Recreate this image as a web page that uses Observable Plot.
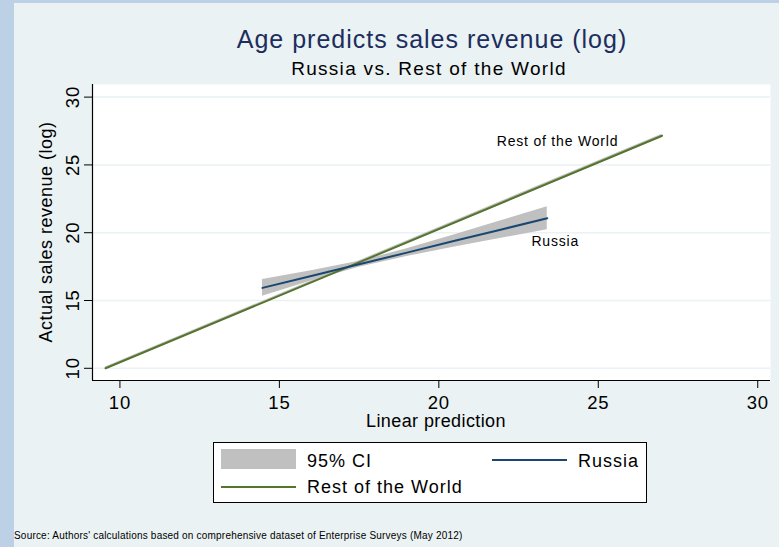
<!DOCTYPE html>
<html><head><meta charset="utf-8">
<script src="https://cdn.jsdelivr.net/npm/d3@7"></script>
<script src="https://cdn.jsdelivr.net/npm/@observablehq/plot@0.6"></script>
<style>
html,body{margin:0;padding:0;}
body{width:779px;height:547px;background:#bcd0e6;overflow:hidden;position:relative;font-family:"Liberation Sans",Arial,sans-serif;}
#panel{position:absolute;left:14px;top:3px;width:765px;height:544px;background:#eaf2f3;}
#chart{position:absolute;left:0;top:0;}
#chart svg text{letter-spacing:0.8px;}
.t{position:absolute;white-space:nowrap;line-height:1;}
#title{left:432px;top:27px;transform:translateX(-50%);font-size:25px;letter-spacing:1px;color:#1c2d5e;}
#sub{left:429px;top:59px;transform:translateX(-50%);font-size:19px;letter-spacing:1.3px;color:#000;}
#xl{left:436px;top:412px;transform:translateX(-50%);font-size:18px;letter-spacing:0.4px;color:#000;}
#yl{left:46px;top:232px;transform:translate(-50%,-50%) rotate(-90deg);font-size:18px;letter-spacing:0.5px;color:#000;}
#legend{position:absolute;left:213px;top:442px;width:432px;height:59px;border:1px solid #000;background:#fff;}
.sw{position:absolute;}
.lt{position:absolute;font-size:18px;letter-spacing:1px;line-height:1;}
#src{left:14px;top:531px;font-size:10px;letter-spacing:0.2px;color:#000;}
</style>
</head><body>
<div id="panel"></div>
<div id="chart"></div>
<div class="t" id="title">Age predicts sales revenue (log)</div>
<div class="t" id="sub">Russia vs. Rest of the World</div>
<div class="t" id="xl">Linear prediction</div>
<div class="t" id="yl">Actual sales revenue (log)</div>
<div id="legend">
  <div class="sw" style="left:7px;top:6px;width:75px;height:20px;background:#c0c0c0"></div>
  <div class="lt" style="left:93px;top:9px">95% CI</div>
  <div class="sw" style="left:278px;top:16px;width:75px;height:2px;background:#1a476f"></div>
  <div class="lt" style="left:364px;top:9px">Russia</div>
  <div class="sw" style="left:7px;top:43px;width:75px;height:2px;background:#55752f"></div>
  <div class="lt" style="left:93px;top:35px">Rest of the World</div>
</div>
<div class="t" id="src">Source: Authors' calculations based on comprehensive dataset of Enterprise Surveys (May 2012)</div>
<script>
// Tick values
const xTicks = [10, 15, 20, 25, 30];
const yTicks = [10, 15, 20, 25, 30];

// Rest of the World fit (linear prediction vs actual) with 95% CI
const rowX  = [9.55, 27.0];
const rowY  = [10.0, 27.15];
const rowLo = [9.9, 27.03];
const rowHi = [10.1, 27.27];

// Russia fit with 95% CI
const rusX  = [14.47, 16.0, 17.5, 19.0, 20.5, 22.0, 23.4];
const rusY  = [15.93, 16.81, 17.67, 18.53, 19.40, 20.26, 21.07];
const rusLo = [15.31, 16.43, 17.45, 18.25, 18.95, 19.61, 20.22];
const rusHi = [16.55, 17.19, 17.89, 18.81, 19.85, 20.91, 21.92];

// Line labels
const labelNames = ["Rest of the World", "Russia"];
const labelX = [23.72, 23.65];
const labelY = [26.74, 19.34];

const row = rowX.map((x, i) => ({x, y: rowY[i], lo: rowLo[i], hi: rowHi[i]}));
const rus = rusX.map((x, i) => ({x, y: rusY[i], lo: rusLo[i], hi: rusHi[i]}));
const labels = labelNames.map((name, i) => ({name, x: labelX[i], y: labelY[i]}));

const xDom = [9.14, 30.4], yDom = [9.1, 30.93];

const plot = Plot.plot({
  width: 779, height: 547,
  marginLeft: 92, marginRight: 9, marginTop: 84, marginBottom: 167,
  style: {background: "transparent", fontFamily: "Liberation Sans, Arial, sans-serif", color: "#000"},
  x: {domain: xDom},
  y: {domain: yDom},
  marks: [
    Plot.frame({fill: "white", stroke: "none"}),
    Plot.gridY(yTicks, {stroke: "#eaf2f3", strokeOpacity: 1, strokeWidth: 1.5}),
    Plot.areaY(row, {x: "x", y1: "lo", y2: "hi", fill: "#c0c0c0"}),
    Plot.areaY(rus, {x: "x", y1: "lo", y2: "hi", fill: "#c0c0c0"}),
    Plot.line(row, {x: "x", y: "y", stroke: "#55752f", strokeWidth: 2}),
    Plot.line(rus, {x: "x", y: "y", stroke: "#1a476f", strokeWidth: 2}),
    Plot.text(labels, {x: "x", y: "y", text: "name", fontSize: 14, fill: "#000"}),
    Plot.axisX(xTicks, {tickSize: 8, tickPadding: 7, fontSize: 18.5, label: null}),
    Plot.axisY(yTicks, {tickSize: 8, tickPadding: 6, tickRotate: -90, fontSize: 18.5, label: null}),
    Plot.ruleY([yDom[0]], {stroke: "#000", strokeWidth: 1.2}),
    Plot.ruleX([xDom[0]], {stroke: "#000", strokeWidth: 1.2})
  ]
});
document.getElementById("chart").appendChild(plot);
</script>
</body></html>
